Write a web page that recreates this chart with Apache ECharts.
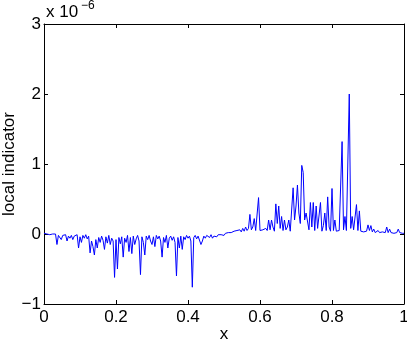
<!DOCTYPE html>
<html>
<head>
<meta charset="utf-8">
<script src="https://cdn.jsdelivr.net/npm/echarts@6/dist/echarts.min.js"></script>
<style>
  html, body { margin: 0; padding: 0; background: #fff; }
  #chart { width: 407px; height: 342px; }
</style>
</head>
<body>
<div id="chart"></div>
<script>
// x samples: 0 .. 1, step 0.004
var xStep = 0.004;
// local indicator values, in units of 1e-6
var indicator = [
  0.01, 0.01, 0.0, 0.01, -0.01, 0.01, 0.0, -0.01, 0.0, -0.15,
  -0.02, -0.01, -0.08, -0.02, -0.04, -0.01, -0.1, -0.03, -0.06, -0.02,
  -0.08, -0.03, -0.05, -0.01, -0.2, -0.04, -0.12, -0.02, -0.06, -0.01,
  -0.07, -0.03, -0.27, -0.1, -0.18, -0.3, -0.08, -0.2, -0.05, -0.12,
  -0.03, -0.09, -0.22, -0.04, -0.13, -0.02, -0.15, -0.06, -0.1, -0.62,
  -0.08, -0.5, -0.05, -0.14, -0.04, -0.33, -0.06, -0.12, -0.02, -0.25,
  -0.05, -0.28, -0.03, -0.15, -0.07, -0.02, -0.1, -0.58, -0.04, -0.12,
  -0.3, -0.03, -0.08, -0.02, -0.1, -0.15, -0.04, -0.18, -0.02, -0.07,
  -0.03, -0.1, -0.33, -0.05, -0.12, -0.02, -0.2, -0.06, -0.03, -0.09,
  -0.04, -0.12, -0.6, -0.05, -0.2, -0.03, -0.22, -0.04, -0.08, -0.02,
  -0.06, -0.03, -0.1, -0.76, -0.05, -0.02, -0.07, -0.03, -0.05, -0.15,
  -0.1, -0.03, -0.06, -0.02, -0.04, -0.05, -0.01, -0.06, -0.03, -0.02,
  -0.04, -0.01, -0.03, -0.01, 0.0, -0.02, 0.01, -0.01, 0.02, 0.0,
  0.02, 0.01, 0.04, 0.02, 0.05, 0.03, 0.06, 0.03, 0.08, 0.04,
  0.1, 0.05, 0.08, 0.28, 0.06, 0.1, 0.22, 0.05, 0.03, 0.52,
  0.05, 0.03, 0.06, 0.04, 0.08, 0.05, 0.2, 0.06, 0.2, 0.1,
  0.04, 0.43, 0.15, 0.4, 0.08, 0.25, 0.05, 0.2, 0.06, 0.1,
  0.2, 0.04, 0.03, 0.66, 0.2, 0.4, 0.7, 0.3, 0.15, 0.98,
  0.88, 0.2, 0.3, 0.3, 0.06, 0.45, 0.1, 0.45, 0.05, 0.4,
  0.08, 0.1, 0.45, 0.04, 0.12, 0.3, 0.05, 0.53, 0.1, 0.04,
  0.65, 0.05, 0.2, 0.04, 0.03, 0.05, 0.03, 1.32, 0.06, 0.25,
  0.05, 0.03, 2.0, 0.08, 0.25, 0.06, 0.04, 0.42, 0.05, 0.33,
  0.04, 0.02, 0.03, 0.03, 0.04, 0.13, 0.05, 0.12, 0.03, 0.07,
  0.02, 0.03, 0.05, 0.02, 0.02, 0.03, 0.01, 0.02, 0.1, 0.02,
  0.07, 0.02, 0.03, 0.01, 0.02, 0.02, 0.07, 0.02, 0.03, 0.01,
  0.01
];
var xTicks = [0, 0.2, 0.4, 0.6, 0.8, 1];
var yTicks = [-1, 0, 1, 2, 3];

var font = '"Liberation Sans", Arial, Helvetica, sans-serif';
var fs = 17;
var points = indicator.map(function (v, i) { return [+(i * xStep).toFixed(4), v]; });

var chart = echarts.init(document.getElementById('chart'));

function boxAxis(show) {
  return {
    axisLine: { show: true, onZero: false, lineStyle: { color: '#000', width: 1 } },
    axisTick: { show: true, inside: true, length: 4, lineStyle: { color: '#000' } },
    axisLabel: { show: show, color: '#000', fontSize: fs, fontFamily: font },
    splitLine: { show: false }
  };
}

var xBottom = Object.assign(boxAxis(true), {
  type: 'value', position: 'bottom', min: 0, max: 1, interval: 0.2,
  name: 'x', nameLocation: 'middle', nameGap: 22, nameMoveOverlap: false,
  nameTextStyle: { color: '#000', fontSize: fs, fontFamily: font }
});
xBottom.axisLabel.margin = 5;
xBottom.axisLabel.formatter = function (v) { return xTicks.indexOf(+v.toFixed(1)) >= 0 ? String(+v.toFixed(1)) : ''; };

var xTop = Object.assign(boxAxis(false), {
  type: 'value', position: 'top', min: 0, max: 1, interval: 0.2
});

var yLeft = Object.assign(boxAxis(true), {
  type: 'value', position: 'left', min: -1, max: 3, interval: 1,
  name: 'local indicator', nameLocation: 'middle', nameGap: 26, nameMoveOverlap: false,
  nameTextStyle: { color: '#000', fontSize: fs, fontFamily: font }
});
yLeft.axisLabel.margin = 3;
yLeft.axisLabel.formatter = function (v) { return yTicks.indexOf(v) >= 0 ? String(v).replace('-', '\u2212') : ''; };

var yRight = Object.assign(boxAxis(false), {
  type: 'value', position: 'right', min: -1, max: 3, interval: 1
});

chart.setOption({
  animation: false,
  backgroundColor: '#fff',
  grid: { left: 44, right: 3, top: 24, bottom: 38, containLabel: false, outerBoundsMode: 'none' },
  xAxis: [xBottom, xTop],
  yAxis: [yLeft, yRight],
  graphic: [{
    type: 'text', left: 46, top: 4,
    style: { text: 'x 10', fill: '#000', fontSize: fs, fontFamily: font }
  }, {
    type: 'text', left: 81, top: 0,
    style: { text: '\u22126', fill: '#000', fontSize: 12, fontFamily: font }
  }],
  series: [{
    type: 'line',
    data: points,
    xAxisIndex: 0,
    yAxisIndex: 0,
    showSymbol: false,
    lineStyle: { color: '#0000ff', width: 1 },
    itemStyle: { color: '#0000ff' }
  }]
});
</script>
</body>
</html>
